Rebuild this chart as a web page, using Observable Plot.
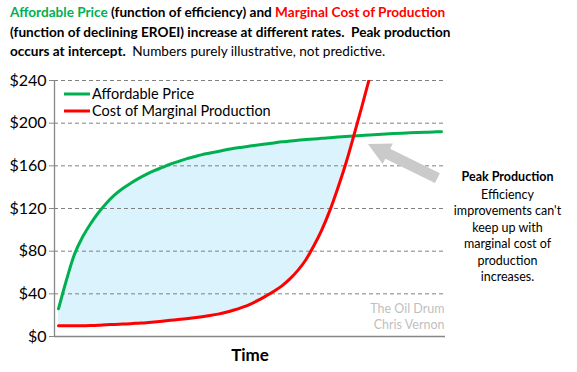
<!DOCTYPE html>
<html>
<head>
<meta charset="utf-8">
<script src="https://cdn.jsdelivr.net/npm/d3@7"></script>
<script src="https://cdn.jsdelivr.net/npm/@observablehq/plot@0.6"></script>
<style>
  html, body { margin: 0; padding: 0; background: #fff; }
  body { width: 577px; height: 372px; overflow: hidden; font-family: Lato, "Open Sans", sans-serif; }
  #title { height: 68px; box-sizing: border-box; padding: 3px 0 0 10px; font-size: 13.6px; line-height: 19.5px; color: #000; font-weight: bold; }
  #title .g { color: #00B050; }
  #title .r { color: #FF0000; }
  #title .n { font-weight: normal; }
</style>
</head>
<body>
<div id="title">
  <div><span class="g">Affordable Price</span> (function of efficiency) and <span class="r">Marginal Cost of Production</span></div>
  <div>(function of declining EROEI) increase at different rates.&nbsp; Peak production</div>
  <div>occurs at intercept.&nbsp; <span class="n">Numbers purely illustrative, not predictive.</span></div>
</div>
<div id="chart"></div>
<script>
// Affordable price (green), one value per time step
const affordablePrice = [
  26, 53, 77, 93, 105.5, 116, 125, 132.5, 138.5, 143.5,
  148, 152, 155.5, 158.5, 161.5, 164, 166.5, 168.5, 170.5, 172,
  173.5, 175, 176.5, 177.5, 178.5, 179.5, 180.5, 181.5, 182.5, 183.2,
  184, 184.6, 185.2, 185.8, 186.4, 187, 187.5, 188, 188.5, 189,
  189.4, 189.8, 190.2, 190.6, 190.9, 191.2, 191.5, 191.8, 192
];
// Cost of marginal production (red)
const marginalCost = [
  10, 10, 10, 10, 10.2, 10.5, 11, 11.3, 11.7, 12,
  12.5, 13, 13.7, 14.4, 15.2, 15.9, 16.7, 17.6, 18.6, 19.7,
  21, 22.7, 24.8, 27.3, 30.2, 33.8, 38, 42.5, 47.5, 54,
  62, 72, 85, 100, 118, 139, 162, 188, 215, 243,
  273, 305
];
const yTicks = [0, 40, 80, 120, 160, 200, 240];
const seriesNames = ["Affordable Price", "Cost of Marginal Production"];
const seriesColors = ["#00B050", "#FF0000"];
const annotationTitle = "Peak Production";
const annotationLines = ["Efficiency", "improvements can't", "keep up with", "marginal cost of", "production", "increases."];
const credits = ["The Oil Drum", "Chris Vernon"];
const xLabel = "Time";
// arrow annotation: tip and tail in data units (time step, $)
const arrowTip = {t: 38.85, v: 180};
const arrowTail = {t: 47.55, v: 148};

const greenData = affordablePrice.map((v, i) => ({t: i, v}));
const redData = marginalCost.map((v, i) => ({t: i, v}));
const fillData = affordablePrice
  .map((g, i) => ({t: i, g, r: marginalCost[i]}))
  .filter(d => d.r !== undefined && d.g >= d.r);

const font = "Lato, 'Open Sans', sans-serif";

const plot = Plot.plot({
  width: 577,
  height: 304,
  marginTop: 12,
  marginBottom: 36,
  marginLeft: 54,
  marginRight: 132,
  style: {fontFamily: font, background: "#fff", overflow: "visible"},
  x: {domain: [-0.5, 48.5], axis: null},
  y: {domain: [0, 240], ticks: yTicks},
  marks: [
    Plot.areaY(fillData, {x: "t", y1: "r", y2: "g", curve: "catmull-rom", fill: "#DAF3FC"}),
    Plot.gridY(yTicks.filter(d => d > 0), {stroke: "#808080", strokeOpacity: 1, strokeDasharray: "4,3", strokeWidth: 1}),
    Plot.axisY({ticks: yTicks, tickFormat: d => "$" + d, tickSize: 5, tickPadding: 3, fontSize: 16, stroke: "#868686", color: "#000", label: null}),
    Plot.ruleX([-0.5], {stroke: "#868686", strokeWidth: 1.3}),
    Plot.ruleY([0], {stroke: "#868686", strokeWidth: 1.3}),
    Plot.line(greenData, {x: "t", y: "v", stroke: seriesColors[0], strokeWidth: 3, curve: "catmull-rom"}),
    Plot.line(redData, {x: "t", y: "v", stroke: seriesColors[1], strokeWidth: 3, curve: "catmull-rom", clip: true}),
    Plot.text([annotationTitle], {frameAnchor: "top-right", dx: 62, dy: 96, textAnchor: "middle", lineAnchor: "middle", fontWeight: "bold", fontSize: 12.5, fill: "#000"}),
    Plot.text([annotationLines.join("\n")], {frameAnchor: "top-right", dx: 62, dy: 154, textAnchor: "middle", lineAnchor: "middle", lineHeight: 1.32, fontSize: 12.5, fill: "#000"}),
    Plot.text([credits.join("\n")], {frameAnchor: "bottom-right", dx: -1, dy: -21, textAnchor: "end", lineAnchor: "middle", lineHeight: 1.28, fontSize: 12.5, fill: "#BFBFBF"}),
    Plot.text([xLabel], {frameAnchor: "bottom", dy: 19, lineAnchor: "middle", fontWeight: "bold", fontSize: 17, fill: "#000"})
  ]
});

const svg = d3.select(plot);
const xs = plot.scale("x"), ys = plot.scale("y");

// arrow drawn through the plot's scales
(function drawArrow() {
  const tx = xs.apply(arrowTip.t), ty = ys.apply(arrowTip.v);
  const ex = xs.apply(arrowTail.t), ey = ys.apply(arrowTail.v);
  const len = Math.hypot(ex - tx, ey - ty);
  const ux = (ex - tx) / len, uy = (ey - ty) / len;
  const nx = -uy, ny = ux;
  const hl = 22, hw = 11.5, sw = 5.5;
  const bx = tx + ux * hl, by = ty + uy * hl;
  const pts = [
    [tx, ty],
    [bx + nx * hw, by + ny * hw],
    [bx + nx * sw, by + ny * sw],
    [ex + nx * sw, ey + ny * sw],
    [ex - nx * sw, ey - ny * sw],
    [bx - nx * sw, by - ny * sw],
    [bx - nx * hw, by - ny * hw]
  ];
  svg.append("polygon").attr("points", pts.map(p => p.join(",")).join(" ")).attr("fill", "#CACACA");
})();

// legend inside plot
const lg = svg.append("g").attr("font-family", font).attr("font-size", 14.5).attr("text-anchor", "start");
seriesNames.forEach((name, i) => {
  const yy = 26 + i * 17;
  lg.append("line").attr("x1", 64).attr("x2", 90).attr("y1", yy).attr("y2", yy)
    .attr("stroke", seriesColors[i]).attr("stroke-width", 3);
  lg.append("text").attr("x", 92).attr("y", yy).attr("dy", "0.35em").attr("fill", "#000").text(name);
});

document.getElementById("chart").appendChild(plot);
</script>
</body>
</html>
